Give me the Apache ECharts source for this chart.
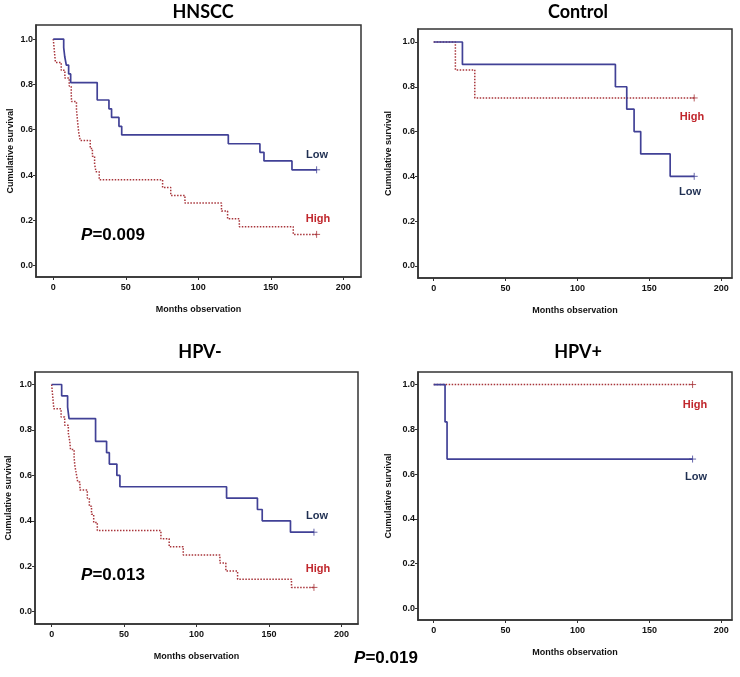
<!DOCTYPE html>
<html>
<head>
<meta charset="utf-8">
<script src="https://cdn.jsdelivr.net/npm/echarts@6/dist/echarts.min.js"></script>
<style>html,body{margin:0;padding:0;background:#fff;}#c{width:740px;height:677px;}</style>
</head>
<body>
<div id="c"></div>
<script>
// ---- data ----
const panelTitles = ['HNSCC', 'Control', 'HPV-', 'HPV+'];
const xTicks = [0, 50, 100, 150, 200];
const yTicks = [0, 0.2, 0.4, 0.6, 0.8, 1.0];
const seriesNames = ['Low', 'High'];
const pValues = ['0.009', null, '0.013', null];
const pOverall = '0.019';

const hnsccLowT  = [0, 7.2, 7.9, 9.0, 10.6, 12.0, 30.3, 38.4, 40.2, 45.3, 47.2, 120.7, 142.5, 145.3, 164.6, 181.6];
const hnsccLowS  = [1, 0.962, 0.923, 0.885, 0.846, 0.808, 0.731, 0.692, 0.654, 0.615, 0.577, 0.538, 0.500, 0.462, 0.423, 0.423];
const hnsccHighT = [0, 0.5, 1.0, 1.5, 5.5, 8.0, 11.0, 12.4, 12.6, 16.0, 16.5, 17.0, 17.6, 18.6, 25.5, 27.0, 28.5, 29.5, 31.7, 75.4, 81.0, 90.8, 116.0, 120.2, 128.3, 165.5, 181.6];
const hnsccHighS = [1, 0.966, 0.931, 0.897, 0.862, 0.828, 0.793, 0.759, 0.724, 0.690, 0.655, 0.621, 0.586, 0.552, 0.517, 0.483, 0.448, 0.414, 0.379, 0.345, 0.310, 0.276, 0.241, 0.207, 0.172, 0.138, 0.138];

const controlLowT  = [0, 20.0, 126.4, 134.3, 139.4, 144.0, 164.5, 181.2];
const controlLowS  = [1, 0.9, 0.8, 0.7, 0.6, 0.5, 0.4, 0.4];
const controlHighT = [0, 15.1, 28.6, 181.2];
const controlHighS = [1, 0.875, 0.75, 0.75];

const hpvNegLowT  = [0, 6.9, 11.0, 12.0, 30.3, 37.9, 39.8, 45.0, 47.1, 120.7, 142.0, 145.3, 164.8, 181.0];
const hpvNegLowS  = [1, 0.95, 0.90, 0.85, 0.75, 0.70, 0.65, 0.60, 0.55, 0.50, 0.45, 0.40, 0.35, 0.35];
const hpvNegHighT = [0, 0.5, 1.0, 1.5, 6.5, 9.0, 11.5, 12.5, 13.0, 15.5, 16.0, 17.0, 18.0, 19.5, 24.6, 26.0, 27.5, 29.0, 31.5, 75.4, 81.1, 90.8, 116.1, 120.2, 128.3, 165.5, 181.0];
const hpvNegHighS = [1, 0.964, 0.929, 0.893, 0.857, 0.821, 0.786, 0.750, 0.714, 0.679, 0.643, 0.607, 0.571, 0.536, 0.500, 0.464, 0.429, 0.393, 0.357, 0.321, 0.286, 0.250, 0.214, 0.179, 0.143, 0.107, 0.107];

const hpvPosLowT  = [0, 7.9, 9.3, 180.0];
const hpvPosLowS  = [1, 0.833, 0.667, 0.667];
const hpvPosHighT = [0, 180.0];
const hpvPosHighS = [1, 1];

// ---- layout ----
const panels = [
  {low: [hnsccLowT, hnsccLowS], high: [hnsccHighT, hnsccHighS], grid: {l: 36, r: 361, t: 25, b: 277}, xr: [-11.9, 212.2], yr: [-0.05, 1.062],
   title: [203, 12], lowLab: [317, 155], highLab: [318, 219], p: [113, 235], yGap: 21},
  {low: [controlLowT, controlLowS], high: [controlHighT, controlHighS], grid: {l: 418, r: 732, t: 29, b: 278}, xr: [-10.9, 207.5], yr: [-0.054, 1.058],
   title: [578, 12], lowLab: [690, 192], highLab: [692, 117], p: null, yGap: 25},
  {low: [hpvNegLowT, hpvNegLowS], high: [hpvNegHighT, hpvNegHighS], grid: {l: 35, r: 358, t: 372, b: 624}, xr: [-11.5, 211.4], yr: [-0.054, 1.055],
   title: [200, 352], lowLab: [317, 516], highLab: [318, 569], p: [113, 575], yGap: 22},
  {low: [hpvPosLowT, hpvPosLowS], high: [hpvPosHighT, hpvPosHighS], grid: {l: 418, r: 732, t: 372, b: 620}, xr: [-10.9, 207.4], yr: [-0.052, 1.056],
   title: [578, 352], lowLab: [696, 477], highLab: [695, 405], p: null, yGap: 25}
];

const lowColor = '#414196';
const highColor = '#a8343a';
const lowText = '#1f2f52';
const highText = '#c0262c';
const plus = 'path://M0,5L10,5M5,0L5,10';

const grids = [], xAxes = [], yAxes = [], series = [], graphics = [];
const zip = (t, s) => t.map((v, i) => [v, s[i]]);

panels.forEach((p, i) => {
  grids.push({left: p.grid.l, top: p.grid.t, width: p.grid.r - p.grid.l, height: p.grid.b - p.grid.t,
    show: true, borderColor: '#333', borderWidth: 1.5, backgroundColor: '#fff'});
  xAxes.push({type: 'value', gridIndex: i, min: p.xr[0], max: p.xr[1],
    axisLine: {show: true, onZero: false, lineStyle: {color: '#333', width: 1.5}},
    axisTick: {show: true, length: 3, customValues: xTicks, lineStyle: {color: '#333'}},
    axisLabel: {customValues: xTicks, color: '#111', fontFamily: 'Liberation Sans', fontWeight: 'bold', fontSize: 9, margin: 6},
    splitLine: {show: false},
    name: 'Months observation', nameLocation: 'middle', nameGap: 28,
    nameTextStyle: {color: '#111', fontFamily: 'Liberation Sans', fontWeight: 'bold', fontSize: 9}});
  yAxes.push({type: 'value', gridIndex: i, min: p.yr[0], max: p.yr[1],
    axisLine: {show: true, onZero: false, lineStyle: {color: '#333', width: 1.5}},
    axisTick: {show: true, length: 3, customValues: yTicks, lineStyle: {color: '#333'}},
    axisLabel: {customValues: yTicks, formatter: v => v.toFixed(1), color: '#111', fontFamily: 'Liberation Sans', fontWeight: 'bold', fontSize: 9, margin: 3},
    splitLine: {show: false},
    name: 'Cumulative survival', nameLocation: 'middle', nameGap: p.yGap,
    nameTextStyle: {color: '#111', fontFamily: 'Liberation Sans', fontWeight: 'bold', fontSize: 9}});

  const lowData = zip(p.low[0], p.low[1]);
  const highData = zip(p.high[0], p.high[1]);
  series.push({type: 'line', name: 'High', xAxisIndex: i, yAxisIndex: i, step: 'end', data: highData,
    showSymbol: false, silent: true, z: 3,
    lineStyle: {color: highColor, width: 1.5, type: [1.5, 1.5]}});
  series.push({type: 'line', name: 'Low', xAxisIndex: i, yAxisIndex: i, step: 'end', data: lowData,
    showSymbol: false, silent: true, z: 4,
    lineStyle: {color: lowColor, width: 1.7}});
  series.push({type: 'scatter', xAxisIndex: i, yAxisIndex: i, data: [highData[highData.length - 1]],
    symbol: plus, symbolSize: 7, silent: true, z: 5,
    itemStyle: {color: 'none', borderColor: highColor, borderWidth: 1}});
  series.push({type: 'scatter', xAxisIndex: i, yAxisIndex: i, data: [lowData[lowData.length - 1]],
    symbol: plus, symbolSize: 7, silent: true, z: 5,
    itemStyle: {color: 'none', borderColor: lowColor, borderWidth: 1}});

  graphics.push({type: 'text', x: p.title[0], y: p.title[1], z: 10,
    style: {text: panelTitles[i], fill: '#000', font: 'bold 18px Lato', textAlign: 'center', textVerticalAlign: 'middle'}});
  graphics.push({type: 'text', x: p.lowLab[0], y: p.lowLab[1], z: 10,
    style: {text: seriesNames[0], fill: lowText, font: 'bold 11px "Liberation Sans"', textAlign: 'center', textVerticalAlign: 'middle'}});
  graphics.push({type: 'text', x: p.highLab[0], y: p.highLab[1], z: 10,
    style: {text: seriesNames[1], fill: highText, font: 'bold 11px "Liberation Sans"', textAlign: 'center', textVerticalAlign: 'middle'}});
  if (p.p && pValues[i]) {
    graphics.push({type: 'text', x: p.p[0], y: p.p[1], z: 10,
      style: {text: '{i|P}{n|=' + pValues[i] + '}', textAlign: 'center', textVerticalAlign: 'middle',
        rich: {i: {fontFamily: 'Liberation Sans', fontWeight: 'bold', fontStyle: 'italic', fontSize: 17, color: '#000'},
               n: {fontFamily: 'Liberation Sans', fontWeight: 'bold', fontSize: 17, color: '#000'}}}});
  }
});

graphics.push({type: 'text', x: 386, y: 658, z: 10,
  style: {text: '{i|P}{n|=' + pOverall + '}', textAlign: 'center', textVerticalAlign: 'middle',
    rich: {i: {fontFamily: 'Liberation Sans', fontWeight: 'bold', fontStyle: 'italic', fontSize: 17, color: '#000'},
           n: {fontFamily: 'Liberation Sans', fontWeight: 'bold', fontSize: 17, color: '#000'}}}});

const chart = echarts.init(document.getElementById('c'), null, {renderer: 'canvas'});
chart.setOption({
  animation: false,
  backgroundColor: '#fff',
  grid: grids,
  xAxis: xAxes,
  yAxis: yAxes,
  series: series,
  graphic: graphics
});
</script>
</body>
</html>
